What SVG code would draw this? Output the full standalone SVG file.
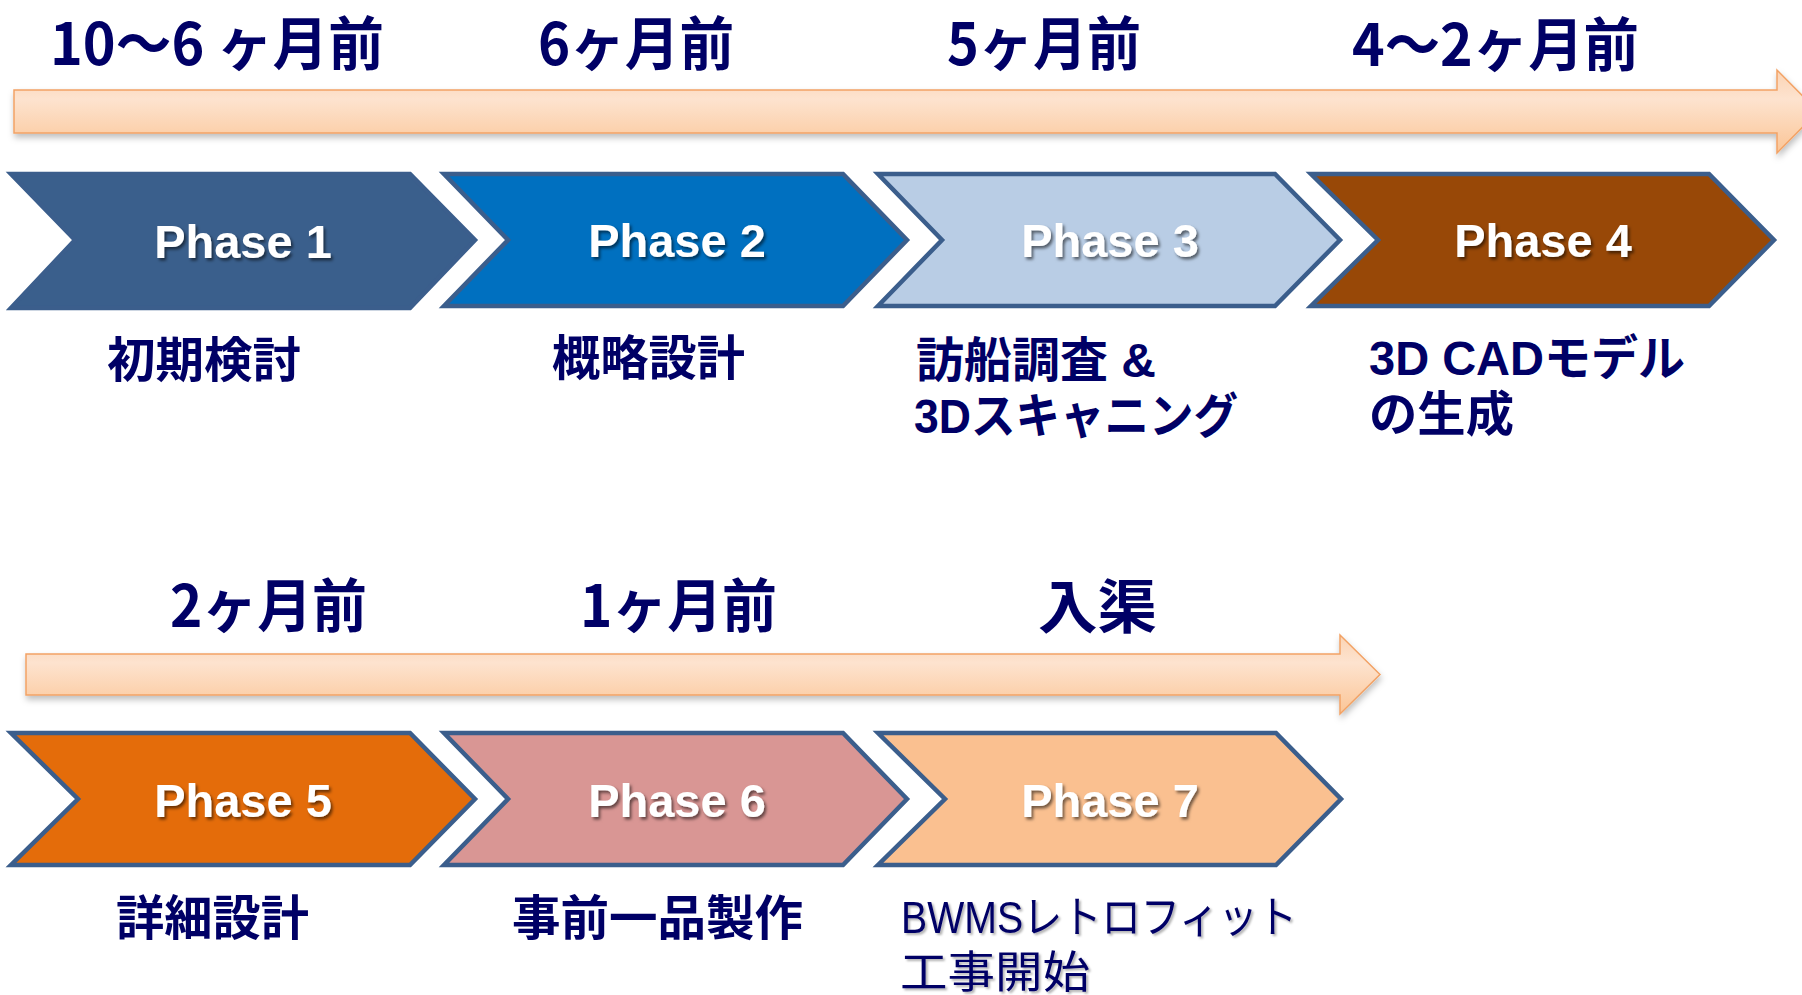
<svg xmlns="http://www.w3.org/2000/svg" width="1802" height="995" viewBox="0 0 1802 995">
<defs>
<linearGradient id="barGrad" x1="0" y1="0" x2="0" y2="1">
<stop offset="0" stop-color="#fbd3b3"/>
<stop offset="0.35" stop-color="#fde3cf"/>
<stop offset="1" stop-color="#fbc596"/>
</linearGradient>
<filter id="barShadow" x="-5%" y="-40%" width="110%" height="200%">
<feDropShadow dx="1" dy="4" stdDeviation="3" flood-color="#000" flood-opacity="0.25"/>
</filter>
<filter id="txtShadow" x="-10%" y="-30%" width="130%" height="170%">
<feDropShadow dx="2" dy="2.5" stdDeviation="1.5" flood-color="#000" flood-opacity="0.55"/>
</filter>
<filter id="softShadow" x="-10%" y="-30%" width="130%" height="170%">
<feDropShadow dx="2" dy="2" stdDeviation="1.2" flood-color="#000" flood-opacity="0.3"/>
</filter>
</defs>
<style>
.bar{fill:url(#barGrad);stroke:#f2a265;stroke-width:1.5;filter:url(#barShadow)}
.chev{stroke:#3b5e8c;stroke-width:4.5;stroke-linejoin:miter}
.ph{font-family:"Liberation Sans",Arial,sans-serif;font-weight:bold;font-size:47px;fill:#ffffff;text-anchor:middle;filter:url(#txtShadow)}
.time{font-family:"Noto Sans CJK JP",sans-serif;font-weight:bold;font-size:58px;fill:#000066}
.desc{font-family:"Liberation Sans","Noto Sans CJK JP",sans-serif;font-weight:bold;font-size:48px;fill:#000066}
.descr{font-family:"Liberation Sans","Noto Sans CJK JP",sans-serif;font-size:44px;fill:#000066;filter:url(#softShadow)}
</style>
<rect width="1802" height="995" fill="#ffffff"/>

<g id="connectors">
<path class="bar" d="M14,90 H1777 V70 L1818,111.5 L1777,153 V133 H14 Z"/>
<path class="bar" d="M26,654 H1340 V635 L1380,674.5 L1340,714 V695 H26 Z"/>
</g>

<g id="time-labels">
<text class="time" x="50" y="65" textLength="334" lengthAdjust="spacingAndGlyphs">10～6 ヶ月前</text>
<text class="time" x="538" y="65" textLength="196" lengthAdjust="spacingAndGlyphs">6ヶ月前</text>
<text class="time" x="947" y="65" textLength="194" lengthAdjust="spacingAndGlyphs">5ヶ月前</text>
<text class="time" x="1352" y="66" textLength="287" lengthAdjust="spacingAndGlyphs">4～2ヶ月前</text>
<text class="time" x="170" y="627" textLength="197" lengthAdjust="spacingAndGlyphs">2ヶ月前</text>
<text class="time" x="580" y="627" textLength="197" lengthAdjust="spacingAndGlyphs">1ヶ月前</text>
<text class="time" x="1038" y="628" font-size="60" textLength="119" lengthAdjust="spacingAndGlyphs">入渠</text>
</g>

<g id="phase1">
<polygon class="chev" fill="#3a5f8c" stroke="#3a5f8c" points="11,174 410,174 475,240 410,308 11,308 75,240"/>
<text class="ph" x="243" y="258">Phase 1</text>
<text class="desc" x="107" y="377" textLength="194" lengthAdjust="spacingAndGlyphs">初期検討</text>
</g>
<g id="phase2">
<polygon class="chev" fill="#0070c0" points="444,174 843,174 907,240 843,306 444,306 508,240"/>
<text class="ph" x="677" y="257">Phase 2</text>
<text class="desc" x="552" y="375" textLength="193" lengthAdjust="spacingAndGlyphs">概略設計</text>
</g>
<g id="phase3">
<polygon class="chev" fill="#b9cde5" points="878,174 1275,174 1340,240 1275,306 878,306 942,240"/>
<text class="ph" x="1110" y="257">Phase 3</text>
<text class="desc" x="916" y="377" textLength="240" lengthAdjust="spacingAndGlyphs">訪船調査 &amp;</text>
<text class="desc" x="914" y="433" textLength="324" lengthAdjust="spacingAndGlyphs">3Dスキャニング</text>
</g>
<g id="phase4">
<polygon class="chev" fill="#984807" points="1311,174 1709,174 1774,240 1709,306 1311,306 1378,240"/>
<text class="ph" x="1543" y="257">Phase 4</text>
<text class="desc" x="1369" y="375" textLength="316" lengthAdjust="spacingAndGlyphs">3D CADモデル</text>
<text class="desc" x="1369" y="431" textLength="145" lengthAdjust="spacingAndGlyphs">の生成</text>
</g>

<g id="phase5">
<polygon class="chev" fill="#e46c0a" points="11,733 410,733 475,799 410,865 11,865 78,799"/>
<text class="ph" x="243" y="817">Phase 5</text>
<text class="desc" x="116" y="935" textLength="193" lengthAdjust="spacingAndGlyphs">詳細設計</text>
</g>
<g id="phase6">
<polygon class="chev" fill="#d99694" points="444,733 843,733 907,799 843,865 444,865 508,799"/>
<text class="ph" x="677" y="817">Phase 6</text>
<text class="desc" x="512" y="935" textLength="291" lengthAdjust="spacingAndGlyphs">事前一品製作</text>
</g>
<g id="phase7">
<polygon class="chev" fill="#fac090" points="878,733 1276,733 1341,799 1276,865 878,865 945,799"/>
<text class="ph" x="1110" y="817">Phase 7</text>
<text class="descr" x="901" y="933" textLength="396" lengthAdjust="spacingAndGlyphs">BWMSレトロフィット</text>
<text class="descr" x="900" y="988" font-size="46" textLength="190" lengthAdjust="spacingAndGlyphs">工事開始</text>
</g>
</svg>
